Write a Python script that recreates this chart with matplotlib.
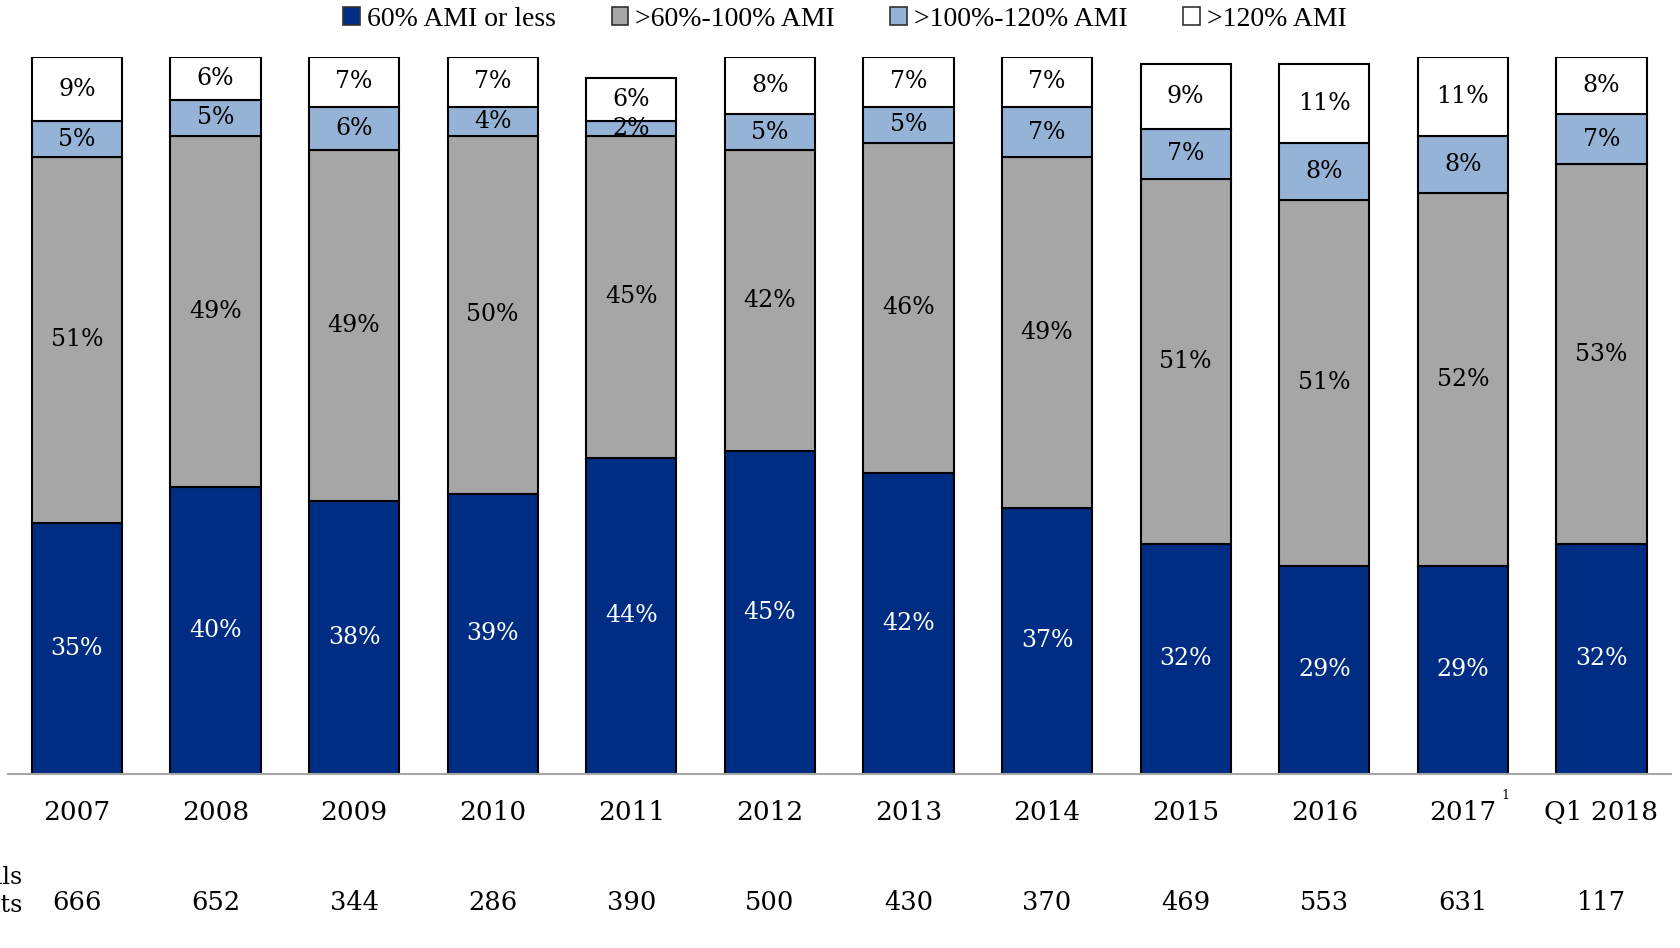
import matplotlib
matplotlib.use("Agg")
import matplotlib.pyplot as plt
from matplotlib.patches import Patch
import numpy as np

years = ["2007", "2008", "2009", "2010", "2011", "2012", "2013",
         "2014", "2015", "2016", "2017", "Q1 2018"]
ami_60_or_less = [35, 40, 38, 39, 44, 45, 42, 37, 32, 29, 29, 32]
ami_60_100 = [51, 49, 49, 50, 45, 42, 46, 49, 51, 51, 52, 53]
ami_100_120 = [5, 5, 6, 4, 2, 5, 5, 7, 7, 8, 8, 7]
ami_over_120 = [9, 6, 7, 7, 6, 8, 7, 7, 9, 11, 11, 8]
units = [666, 652, 344, 286, 390, 500, 430, 370, 469, 553, 631, 117]

series = [ami_60_or_less, ami_60_100, ami_100_120, ami_over_120]
names = ["60% AMI or less", ">60%-100% AMI", ">100%-120% AMI", ">120% AMI"]
colors = ["#002D84", "#A6A6A6", "#95B3D7", "#FFFFFF"]
text_colors = ["white", "black", "black", "black"]

label_font = "DejaVu Serif"

fig = plt.figure(figsize=(16.8, 9.48), dpi=100)
ax = fig.add_axes([0.0045, 0.184, 0.990, 0.756])

x = np.arange(len(years))
bottom = np.zeros(len(years))
for vals, col, tcol in zip(series, colors, text_colors):
    vals = np.array(vals, dtype=float)
    ax.bar(x, vals, bottom=bottom, width=0.65, color=col,
           edgecolor="black", linewidth=1.5)
    for xi, b, v in zip(x, bottom, vals):
        ax.text(xi, b + v / 2, f"{int(v)}%", ha="center", va="center",
                color=tcol, fontsize=17, family=label_font)
    bottom += vals

ax.set_xlim(-0.5, 11.5)
ax.set_ylim(0, 100)
for s in ["top", "right", "left"]:
    ax.spines[s].set_visible(False)
ax.spines["bottom"].set_color("#A6A6A6")
ax.spines["bottom"].set_linewidth(1.5)
ax.set_xticks([])
ax.set_yticks([])

trans = ax.get_xaxis_transform()
for xi, yr, n in zip(x, years, units):
    ax.text(xi, -0.055, yr, ha="center", va="center", fontsize=19,
            family=label_font, transform=trans, clip_on=False)
    ax.text(xi, -0.18, str(n), ha="center", va="center", fontsize=18.5,
            family=label_font, transform=trans, clip_on=False)
# footnote marker on 2017
ax.text(10.31, -0.03, "1", ha="center", va="center", fontsize=9,
        family=label_font, transform=trans, clip_on=False)

fig.text(23 / 1680, 1 - 878 / 948, "Totals", ha="right", va="center",
         fontsize=17, family=label_font)
fig.text(23 / 1680, 1 - 905 / 948, "Units", ha="right", va="center",
         fontsize=17, family=label_font)

handles = [Patch(facecolor=c, edgecolor="#333333", linewidth=1.2) for c in colors]
fig.legend(handles, names, loc="center", bbox_to_anchor=(0.503, 1 - 19 / 948),
           ncol=4, frameon=False, handlelength=0.6, handleheight=0.6,
           handletextpad=0.25, columnspacing=2.0,
           prop={"family": "Liberation Serif", "size": 20})

fig.savefig("out.png", dpi=100)
